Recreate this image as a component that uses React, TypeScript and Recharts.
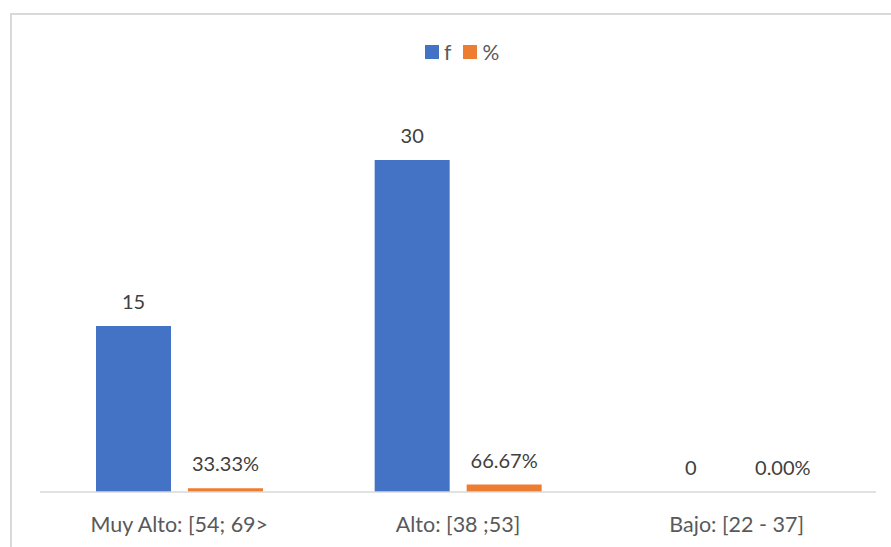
import React from 'react';
import { BarChart, Bar, XAxis, YAxis, LabelList, Legend } from 'recharts';

const categories = ['Muy Alto: [54; 69>', 'Alto: [38 ;53]', 'Bajo: [22 - 37]'];
const fValues = [15, 30, 0];
const pctValues = [0.3333, 0.6667, 0];

const data = categories.map((c, i) => ({ name: c, f: fValues[i], pct: pctValues[i] }));

const FONT = 'Lato, "Noto Sans", sans-serif';
const BLUE = '#4472C4';
const ORANGE = '#ED7D31';

const CategoryTick = (props: any) => {
  const { x, y, payload } = props;
  return (
    <text x={x} y={y} dy={40} textAnchor="middle" fill="#595959" fontSize={21.5} fontFamily={FONT}>
      {payload.value}
    </text>
  );
};

const LegendContent = () => (
  <div style={{ display: 'flex', alignItems: 'flex-start', height: 14, fontFamily: FONT, fontSize: 21, color: '#595959' }}>
    <span style={{ marginLeft: 425, width: 14, height: 14, background: BLUE, display: 'inline-block' }} />
    <span style={{ marginLeft: 5, lineHeight: '14px' }}>f</span>
    <span style={{ marginLeft: 12, width: 14, height: 14, background: ORANGE, display: 'inline-block' }} />
    <span style={{ marginLeft: 5, lineHeight: '14px' }}>%</span>
  </div>
);

export default function App() {
  return (
    <div style={{ position: 'absolute', left: 0, top: 0, width: 891, height: 547, background: '#fff' }}>
      <div
        style={{
          position: 'absolute',
          left: 10,
          top: 13,
          width: 881,
          height: 534,
          borderTop: '2px solid #D9D9D9',
          borderLeft: '2px solid #D9D9D9',
          boxSizing: 'border-box',
        }}
      />
      <div style={{ position: 'absolute', left: 0, top: 0 }}>
        <BarChart
          width={891}
          height={547}
          data={data}
          margin={{ top: 90.7, right: 15, bottom: 5, left: 40 }}
          barSize={75}
          barGap={17}
        >
          <Legend
            verticalAlign="top"
            content={<LegendContent />}
            wrapperStyle={{ top: 45, left: 0, width: 891, height: 14 }}
          />
          <XAxis
            dataKey="name"
            tick={<CategoryTick />}
            tickLine={false}
            tickSize={0}
            tickMargin={0}
            height={50}
            axisLine={{ stroke: '#D9D9D9', strokeWidth: 1.5 }}
            interval={0}
          />
          <YAxis hide domain={[0, 35]} />
          <Bar dataKey="f" fill={BLUE} isAnimationActive={false} minPointSize={0.01}>
            <LabelList dataKey="f" position="top" offset={17} fill="#404040" fontSize={20} fontFamily={FONT} />
          </Bar>
          <Bar dataKey="pct" fill={ORANGE} isAnimationActive={false} minPointSize={0.01}>
            <LabelList
              dataKey="pct"
              position="top"
              offset={17}
              fill="#404040"
              fontSize={20}
              fontFamily={FONT}
              formatter={(v: any) => (Number(v) * 100).toFixed(2) + '%'}
            />
          </Bar>
        </BarChart>
      </div>
    </div>
  );
}
